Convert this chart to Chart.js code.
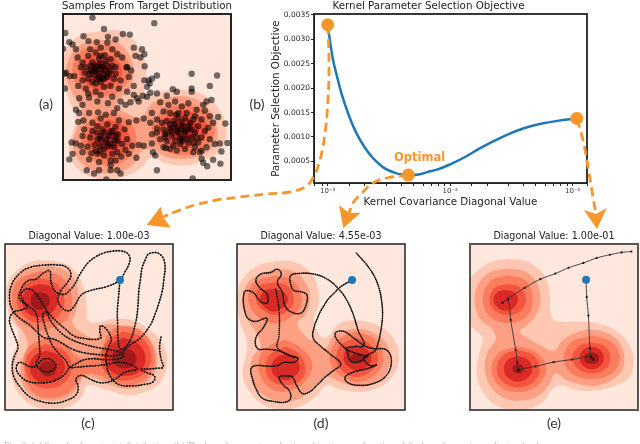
<!DOCTYPE html>
<html>
<head>
<meta charset="utf-8">
<title>Kernel parameter selection</title>
<script src="https://cdn.jsdelivr.net/npm/chart.js@4"></script>
<style>
  html, body { margin: 0; padding: 0; background: #fff; }
  body { position: relative; width: 640px; height: 444px; overflow: hidden; font-family: "DejaVu Sans", sans-serif; }
  canvas { position: absolute; }
  .tag { position: absolute; width: 40px; text-align: center; font: 14px Lato, sans-serif; color: #333; }
  #optimal { position: absolute; left: 394px; top: 150px; font: bold 11.5px "DejaVu Sans", sans-serif; color: #f7962c; }
  #caption { position: absolute; left: 4px; top: 440px; width: 640px; white-space: nowrap; font: 9.6px "Liberation Serif", serif; color: #bbb; }
</style>
</head>
<body>
<canvas id="panelA" width="176" height="184" style="left:59px;top:0"></canvas>
<canvas id="panelB" width="340" height="225" style="left:270px;top:0"></canvas>
<canvas id="panelC" width="176" height="184" style="left:1px;top:230px"></canvas>
<canvas id="panelD" width="176" height="184" style="left:233px;top:230px"></canvas>
<canvas id="panelE" width="176" height="184" style="left:466px;top:230px"></canvas>
<canvas id="arrows" width="640" height="444" style="left:0;top:0"></canvas>
<div class="tag" style="left:26px;top:95px">(a)</div>
<div class="tag" style="left:237px;top:95px">(b)</div>
<div class="tag" style="left:68px;top:414px">(c)</div>
<div class="tag" style="left:301px;top:414px">(d)</div>
<div class="tag" style="left:534px;top:414px">(e)</div>
<div id="optimal">Optimal</div>
<div id="caption">Fig. 2: (a) Samples from target distribution. (b) The kernel parameter selection objective as a function of the kernel covariance diagonal value.</div>

<script>
// objective curve, panel (b)
var diagonalValues = [0.001, 0.0011, 0.0012, 0.0013, 0.0015, 0.0017, 0.002, 0.0023, 0.0027, 0.003, 0.0035, 0.004, 0.00455, 0.0055, 0.0065, 0.008, 0.01, 0.013, 0.017, 0.022, 0.03, 0.04, 0.055, 0.075, 0.108];
var objectiveValues = [0.0033, 0.00261, 0.00221, 0.00188, 0.00142, 0.0011, 0.00079, 0.00059, 0.00042, 0.00034, 0.00027, 0.00023, 0.00022, 0.00023, 0.00028, 0.00034, 0.00044, 0.00058, 0.00075, 0.0009, 0.00106, 0.00118, 0.00127, 0.00133, 0.00138];
var chosenDiagonals = [0.001, 0.00455, 0.108];
var chosenObjectives = [0.0033, 0.00022, 0.00138];
var yTicks = [0.0005, 0.001, 0.0015, 0.002, 0.0025, 0.003, 0.0035];
var xTickValues = [0.001, 0.01, 0.1];
var xTickLabels = ['10⁻³', '10⁻²', '10⁻¹'];

// contour colours, outer level first
var levelColors = ['#fdc7b2', '#fc9f82', '#fb7d5d', '#f4553f', '#d92a26', '#a01a1c'];
var panelBackground = '#fee8de';

// samples, panel (a)
var samplesA = [[275,53],[462,70],[310,88],[193,100],[367,103],[388,105],[205,128],[186,148],[322,112],[248,110],[263,125],[288,128],[345,120],[320,130],[215,135],[225,150],[400,145],[425,150],[432,165],[405,170],[420,175],[433,202],[380,205],[392,215],[195,222],[190,225],[207,232],[432,245],[470,230],[455,240],[445,245],[448,255],[575,225],[652,230],[192,270],[440,265],[630,262],[575,270],[575,280],[518,272],[530,280],[500,292],[470,285],[450,283],[440,295],[427,292],[415,310],[635,305],[620,310],[610,320],[655,357],[677,377],[683,437],[660,438],[645,440],[665,463],[662,500],[640,488],[622,508],[605,485],[610,497],[470,520],[578,545],[317,548],[258,520],[280,530],[295,520],[330,520],[350,520],[360,530],[205,487],[215,470],[265,487],[295,495],[310,475],[408,482],[458,465],[465,475],[497,452],
[268,150],[285,160],[300,145],[335,150],[350,165],[230,175],[245,190],[262,170],[295,178],[312,168],[330,180],[365,175],[378,205],[360,245],[355,270],[385,235],[400,262],[240,205],[252,222],[270,200],[283,205],[300,195],[318,200],[328,215],[345,205],[310,225],[295,225],[278,228],[262,240],[245,245],[220,232],[232,262],[255,270],[275,250],[290,240],[305,240],[320,235],[340,240],[262,285],[285,280],[310,265],[330,262],[380,280],[400,290],[360,310],[335,295],[300,290],[265,298],[235,300],[225,335],[245,320],[290,310],[322,315],[350,330],[375,320],[390,312],[410,300],
[285,215],[300,210],[315,215],[295,235],[280,215],[305,205],[325,225],[270,215],[290,200],[310,240],[300,250],[285,255],[265,225],[335,200],[345,225],[255,205],[275,190],[315,185],[300,170],
[235,345],[232,372],[248,368],[265,345],[292,343],[340,345],[315,350],[300,362],[355,368],[385,373],[408,368],[430,362],[250,395],[245,415],[275,375],[290,385],[320,380],[345,388],[372,395],[288,405],[310,405],[330,405],[352,410],[380,425],[300,425],[318,425],[342,428],[268,420],[282,442],[298,445],[322,445],[340,448],[365,440],[395,445],[415,443],[430,445],[212,435],[225,438],[240,445],[260,448],[245,465],[272,468],[298,462],[350,465],[375,458],[330,490],[345,490],[330,505],[362,478],[385,470],
[325,415],[335,400],[300,415],[315,435],[345,415],[290,425],[305,395],[330,440],[350,430],[275,400],[285,460],[310,455],[335,470],[290,470],
[480,312],[505,320],[525,310],[545,325],[565,315],[590,335],[615,338],[630,355],[640,375],[490,340],[510,345],[535,345],[560,345],[585,355],[605,365],[625,390],[470,365],[455,345],[450,375],[485,375],[500,370],[520,370],[545,375],[570,375],[595,385],[615,400],[490,395],[510,392],[530,390],[548,385],[565,395],[585,405],[605,420],[630,425],[470,405],[455,410],[495,410],[515,415],[535,405],[555,410],[575,420],[595,435],[620,450],[480,425],[500,432],[525,430],[545,432],[565,437],[585,450],[605,460],[455,438],[490,450],[510,455],[530,460],[555,455],[580,465],[600,465],[470,392],[540,420],[528,350],
[545,395],[530,400],[555,400],[515,400],[500,405],[525,380],[565,385],[575,395],[545,425],[560,425],[540,440],[520,445],[495,420],[590,420],[580,435],[510,380],[535,360],[555,360],[580,365]];

var regionsA = [
  [0, [[300,95],[350,92],[395,118],[425,165],[438,215],[430,270],[440,290],[490,278],[560,275],[620,295],[665,345],[680,410],[660,460],[610,490],[560,505],[500,500],[455,480],[425,510],[385,535],[330,548],[270,540],[225,510],[205,470],[210,420],[225,370],[210,320],[195,280],[180,240],[180,170],[205,135],[245,105]]],
  [1, [[290,122],[345,125],[385,165],[400,215],[390,265],[365,295],[345,320],[370,340],[425,360],[450,320],[500,298],[560,295],[615,320],[650,380],[650,430],[615,470],[560,485],[500,480],[455,455],[420,465],[400,500],[350,525],[290,525],[235,490],[215,440],[228,390],[245,340],[230,310],[205,265],[195,215],[215,160],[250,130]]],
  [2, [[295,135],[350,150],[385,205],[370,265],[310,295],[250,280],[215,225],[235,160]]],
  [2, [[325,345],[385,370],[408,425],[385,480],[325,505],[265,480],[240,425],[265,370]]],
  [2, [[550,315],[615,340],[645,395],[615,450],[550,475],[485,450],[455,395],[485,340]]],
  [3, [[295,160],[340,175],[365,215],[345,255],[300,275],[255,255],[235,215],[255,175]]],
  [3, [[325,365],[370,385],[388,425],[370,465],[325,485],[280,465],[260,425],[280,385]]],
  [3, [[550,335],[600,355],[625,395],[600,435],[550,455],[500,435],[478,395],[500,355]]],
  [4, [[300,185],[325,190],[340,215],[325,240],[300,250],[275,240],[262,215],[275,190]]],
  [4, [[325,390],[350,400],[362,425],[350,450],[325,460],[300,450],[288,425],[300,400]]],
  [4, [[550,360],[580,370],[598,395],[580,420],[550,430],[520,420],[505,395],[520,370]]]
];

// panel (c)
var regionsC = [
  [0, [[150,108],[205,125],[235,160],[252,205],[258,255],[262,292],[290,298],[330,288],[390,290],[440,315],[485,360],[500,420],[480,480],[435,510],[380,520],[320,505],[260,490],[245,520],[215,550],[160,562],[100,555],[60,525],[35,480],[30,420],[45,370],[52,330],[30,290],[17,240],[18,185],[45,140],[90,112]]],
  [1, [[145,125],[195,140],[225,180],[232,225],[225,265],[215,300],[250,335],[290,345],[300,310],[350,305],[410,318],[455,360],[470,420],[450,470],[395,500],[330,490],[290,470],[250,465],[235,490],[205,525],[150,538],[95,525],[62,480],[60,420],[80,365],[65,325],[40,290],[25,240],[35,180],[70,140]]],
  [2, [[118,140],[180,158],[212,215],[205,275],[165,310],[110,322],[55,290],[32,230],[50,170]]],
  [2, [[135,345],[190,360],[225,400],[265,410],[300,385],[325,330],[370,310],[430,330],[462,395],[450,455],[400,488],[335,478],[295,460],[250,458],[230,480],[195,518],[130,528],[85,500],[68,440],[82,375]]],
  [3, [[115,162],[165,178],[190,225],[175,275],[125,298],[75,285],[47,235],[68,185]]],
  [3, [[135,365],[190,385],[212,430],[195,478],[140,500],[90,480],[72,430],[90,385]]],
  [3, [[368,325],[425,345],[452,400],[435,450],[385,475],[330,465],[300,415],[320,355]]],
  [4, [[115,180],[150,190],[170,230],[150,270],[115,282],[80,270],[62,230],[80,195]]],
  [4, [[135,385],[175,400],[192,435],[175,470],[135,482],[100,470],[85,432],[100,400]]],
  [4, [[368,345],[412,362],[435,405],[420,445],[375,462],[335,450],[312,410],[330,368]]],
  [5, [[115,205],[140,215],[145,240],[125,258],[100,255],[88,232],[95,212]]],
  [5, [[140,415],[160,425],[165,445],[148,462],[125,458],[115,438],[122,422]]],
  [5, [[368,378],[395,385],[408,410],[395,432],[365,438],[342,425],[335,400],[348,385]]]
];
var pathC = [[482,343],[478,365],[478,385],[482,410],[488,435],[470,438],[450,440],[420,442],[440,452],[462,462],[458,480],[430,488],[395,492],[360,490],[340,478],[325,455],[318,430],[315,400],[325,370],[332,350],[318,320],[300,308],[297,325],[300,345],[280,350],[250,347],[220,340],[195,320],[170,298],[150,278],[130,250],[115,225],[100,205],[90,198],[75,195],[60,212],[68,235],[78,250],[60,260],[40,265],[25,285],[30,315],[42,345],[50,375],[40,400],[33,430],[38,465],[58,497],[85,525],[120,540],[160,545],[195,537],[225,520],[232,495],[225,472],[240,460],[265,470],[295,482],[325,480],[345,470],[375,450],[410,440],[385,425],[355,420],[325,425],[290,430],[258,432],[228,435],[205,435],[195,415],[175,395],[155,370],[142,340],[130,305],[125,275],[135,265],[150,295],[180,330],[210,350],[250,365],[290,375],[330,382],[365,392],[340,400],[300,397],[255,392],[215,380],[180,360],[155,348],[130,345],[105,325],[85,305],[55,285],[35,262],[25,230],[30,185],[55,148],[85,130],[125,123],[165,122],[195,128],[210,150],[200,175],[180,200],[170,228],[185,255],[205,262],[222,245],[240,215],[270,200],[320,188],[358,168],[372,145],[385,120],[388,100],[380,86],[360,79],[335,80],[310,85],[285,97],[262,115],[245,138],[232,160],[222,180],[208,198],[190,212],[165,205],[150,175],[146,140],[125,148],[105,165],[80,170],[60,195],[55,225],[85,250],[105,270],[110,300],[112,330],[115,370],[115,400],[105,425],[115,440],[140,450],[165,432],[145,410],[120,415],[105,432],[85,433],[55,420],[45,440],[60,465],[85,480],[110,483],[140,482],[170,472],[190,458],[203,440],[215,430],[260,410],[320,412],[365,405],[370,385],[392,365],[420,345],[450,305],[465,270],[475,240],[485,205],[490,170],[493,115],[475,87],[445,88],[435,105],[425,130],[420,165],[415,200],[412,250],[405,300],[385,360],[360,380],[352,345],[351,305],[350,265],[354,215],[358,168]];

// panel (d)
var regionsD = [
  [0, [[195,110],[250,112],[300,145],[322,190],[325,245],[310,290],[320,325],[345,345],[390,300],[450,293],[510,310],[550,345],[568,400],[550,460],[500,500],[440,510],[380,500],[350,490],[310,530],[260,558],[200,562],[150,545],[110,500],[95,450],[108,385],[105,345],[85,290],[80,215],[95,165],[140,125]]],
  [1, [[190,135],[245,140],[285,175],[298,225],[285,275],[260,300],[290,345],[310,355],[345,375],[375,335],[440,318],[500,335],[535,375],[540,425],[510,475],[450,495],[390,480],[350,465],[310,495],[270,530],[210,540],[150,515],[120,470],[125,405],[150,370],[130,320],[100,270],[100,200],[130,160]]],
  [2, [[190,155],[240,165],[270,205],[270,250],[235,285],[185,300],[135,275],[112,225],[130,175]]],
  [2, [[225,350],[270,375],[305,420],[290,470],[245,505],[190,505],[150,465],[145,410],[175,370]]],
  [2, [[440,325],[495,350],[520,400],[505,450],[450,480],[390,460],[360,420],[370,365],[400,340]]],
  [3, [[190,175],[230,185],[250,225],[235,260],[195,275],[150,255],[135,220],[150,185]]],
  [3, [[225,372],[265,395],[285,435],[270,475],[225,490],[180,475],[165,435],[180,395]]],
  [3, [[440,345],[480,365],[505,405],[485,445],[440,465],[395,445],[378,405],[395,365]]],
  [4, [[190,195],[220,205],[232,230],[215,255],[185,265],[155,245],[148,220],[165,200]]],
  [4, [[225,395],[255,410],[268,440],[250,465],[220,475],[190,460],[182,430],[198,405]]],
  [4, [[440,368],[470,380],[485,408],[470,435],[440,445],[410,430],[400,405],[412,380]]],
  [5, [[440,390],[460,398],[465,412],[450,422],[428,420],[420,405]]]
];
var pathD = [[426,168],[390,190],[372,208],[355,225],[342,245],[330,265],[320,288],[312,310],[308,345],[330,370],[360,395],[392,425],[370,445],[345,465],[320,490],[295,512],[275,515],[258,490],[245,465],[225,462],[205,465],[218,490],[235,505],[240,530],[225,542],[190,540],[155,530],[135,500],[125,470],[120,440],[135,430],[170,432],[200,430],[220,420],[250,420],[262,408],[235,398],[205,385],[170,380],[140,378],[135,345],[160,310],[168,285],[130,295],[105,275],[100,205],[125,205],[150,235],[170,238],[168,210],[150,195],[135,170],[150,150],[180,145],[200,135],[212,150],[200,175],[215,205],[222,245],[240,265],[270,270],[285,250],[290,215],[275,205],[250,200],[240,180],[240,155],[265,148],[310,150],[350,165],[385,195],[410,230],[430,275],[445,325],[462,368],[430,372],[408,378],[430,390],[465,400],[475,400],[440,420],[420,415],[410,385],[380,350],[375,330],[400,325],[430,345],[465,370],[490,378],[530,382],[545,415],[530,460],[490,485],[440,490],[410,480],[405,465],[430,450],[470,440],[500,428],[480,430],[462,405],[495,385],[505,360],[510,340],[518,280],[515,230],[508,195],[495,160],[480,135],[465,115],[437,84]];
var pathD2 = [[195,195],[205,260],[205,340],[200,375],[235,398],[262,408]];

// panel (e)
var regionsE = [
  [0, [[262,103],[310,108],[350,130],[378,165],[388,210],[390,260],[400,290],[430,296],[480,295],[530,300],[590,325],[630,370],[642,420],[625,470],[580,495],[520,508],[465,505],[420,490],[395,505],[370,540],[330,562],[280,568],[230,555],[195,525],[172,480],[168,430],[178,380],[185,345],[160,320],[140,290],[140,180],[170,140],[210,112]]],
  [1, [[265,132],[310,140],[345,170],[360,220],[352,265],[322,305],[298,325],[320,345],[360,368],[400,385],[430,350],[480,325],[530,322],[585,345],[610,385],[612,430],[590,465],[540,490],[490,490],[440,475],[405,455],[385,490],[350,525],[300,538],[250,530],[210,495],[192,440],[200,390],[225,350],[215,320],[180,290],[162,240],[170,185],[205,145]]],
  [2, [[262,152],[315,170],[337,225],[318,280],[262,300],[208,280],[186,228],[208,172]]],
  [2, [[292,370],[350,392],[378,440],[350,492],[292,512],[235,492],[212,440],[235,392]]],
  [2, [[515,338],[575,358],[600,408],[575,455],[515,472],[455,455],[430,408],[455,358]]],
  [3, [[262,180],[300,192],[316,228],[300,262],[262,276],[222,262],[206,228],[222,192]]],
  [3, [[292,382],[340,400],[358,440],[340,480],[292,497],[246,480],[228,440],[246,400]]],
  [3, [[515,360],[555,372],[572,408],[555,442],[515,455],[475,442],[456,408],[475,372]]],
  [4, [[255,198],[280,205],[292,228],[280,252],[255,262],[230,252],[218,228],[230,205]]],
  [4, [[292,400],[322,412],[335,440],[322,468],[292,480],[262,468],[250,440],[262,412]]],
  [4, [[515,372],[540,382],[552,408],[540,432],[515,442],[490,432],[478,408],[490,382]]],
  [5, [[515,390],[530,395],[537,408],[530,420],[515,425],[498,420],[492,408],[498,395]]],
  [5, [[292,425],[305,430],[310,440],[305,450],[292,455],[280,450],[275,440],[280,430]]]
];
var pathE = [[498,167],[500,220],[505,277],[510,378],[516,408],[520,412],[512,403],[455,412],[400,420],[345,433],[295,443],[292,447],[290,420],[285,382],[270,290],[262,228],[245,238],[262,225],[312,192],[360,165],[405,148],[445,130],[490,115],[530,100],[570,90],[605,83],[635,80]];

// blue starts
var startC = [[358,168]];
var startD = [[426,168]];
var startE = [[498,167]];

// dashed connectors and arrow heads, in page pixels
var arrowLeft = [[328,25],[329,67],[328,100],[325,133],[320,160],[313,178],[305,187],[290,192],[267,194],[240,197],[217,200],[195,205],[175,212],[163,217]];
var arrowMiddle = [[408,175],[387,178],[373,183],[362,193],[353,203],[349,213]];
var arrowRight = [[577,119],[583,140],[588,167],[593,197],[596,214]];
var headLeft = [[146.7,225],[160.7,206.7],[163,216.7],[170.7,227.7]];
var headMiddle = [[343.3,228.3],[339,205],[349,213],[360.7,212.7]];
var headRight = [[597,229],[584,210],[596,214],[606.7,208]];

var orange = '#f7962c';
var blue = '#1f77b4';

// panel background under the contours, axes box over everything
var framePlugin = {
  id: 'frame',
  beforeDatasetsDraw: function(chart, args, opts) {
    if (!opts.background) return;
    var area = chart.chartArea;
    chart.ctx.save();
    chart.ctx.fillStyle = opts.background;
    chart.ctx.fillRect(area.left, area.top, area.right - area.left, area.bottom - area.top);
    chart.ctx.restore();
  },
  afterDatasetsDraw: function(chart, args, opts) {
    var area = chart.chartArea;
    var ctx = chart.ctx;
    ctx.save();
    ctx.strokeStyle = opts.color || '#222';
    ctx.lineWidth = opts.width || 1.5;
    ctx.strokeRect(area.left, area.top, area.right - area.left, area.bottom - area.top);
    ctx.restore();
  }
};

function closed(points) {
  return points.concat([points[0]]);
}

function regionDatasets(regions) {
  return regions.map(function(region) {
    return {
      data: closed(region[1]),
      showLine: true,
      fill: 'shape',
      backgroundColor: levelColors[region[0]],
      borderWidth: 0,
      pointRadius: 0,
      tension: 0.4,
      capBezierPoints: false
    };
  });
}

function pathLine(points, width) {
  return {
    data: points,
    showLine: true,
    fill: false,
    borderColor: '#333',
    borderWidth: width,
    tension: 0.4,
    pointRadius: 0
  };
}

// the samples along a trajectory: round dots from a dashed stroke of the same line
function pathDots(points, size, gap) {
  return {
    data: points,
    showLine: true,
    fill: false,
    borderColor: '#111',
    borderWidth: size,
    borderCapStyle: 'round',
    borderDash: [0.01, gap],
    tension: 0.4,
    pointRadius: 0
  };
}

function pathVertices(points) {
  var ds = pathLine(points, 0.9);
  ds.pointRadius = 1.1;
  ds.pointBorderWidth = 0;
  ds.pointBackgroundColor = '#111';
  return ds;
}

function startDataset(points) {
  return { data: points, pointRadius: 4, pointBorderWidth: 0, pointBackgroundColor: blue };
}

function makePanel(id, title, titleSize, frameStyle, xMin, xMax, yMin, yMax, datasets) {
  // first dataset in the list gets painted first
  datasets.forEach(function(ds, i) { ds.order = datasets.length - i; });
  new Chart(document.getElementById(id), {
    type: 'scatter',
    data: { datasets: datasets },
    plugins: [framePlugin],
    options: {
      responsive: false,
      animation: false,
      layout: { padding: { left: 3, right: 3, top: 0, bottom: 0 } },
      plugins: {
        legend: { display: false },
        tooltip: { enabled: false },
        frame: frameStyle,
        title: {
          display: true,
          text: title,
          color: '#222',
          font: { family: 'DejaVu Sans', size: titleSize, weight: 'normal', lineHeight: 12 / titleSize },
          padding: { top: 0, bottom: 2 }
        }
      },
      scales: {
        x: { display: false, min: xMin, max: xMax },
        y: { display: false, min: yMin, max: yMax, reverse: true }
      }
    }
  });
}

makePanel('panelA', 'Samples From Target Distribution', 10.3, { background: panelBackground, width: 2 }, 186, 694, 42, 550,
  regionDatasets(regionsA).concat([{
    data: samplesA,
    clip: 0,
    pointRadius: 3.2,
    pointBorderWidth: 0,
    pointBackgroundColor: 'rgba(0,0,0,0.55)'
  }]));

makePanel('panelC', 'Diagonal Value: 1.00e-03', 9.6, { background: panelBackground }, 11, 518, 58, 566,
  regionDatasets(regionsC).concat([pathLine(pathC, 0.8), pathDots(pathC, 1.9, 2.9), startDataset(startC)]));

makePanel('panelD', 'Diagonal Value: 4.55e-03', 9.6, { background: panelBackground }, 78, 586, 58, 566,
  regionDatasets(regionsD).concat([pathLine(pathD, 0.8), pathDots(pathD, 1.7, 2), pathDots(pathD2, 1.7, 2), startDataset(startD)]));

makePanel('panelE', 'Diagonal Value: 1.00e-01', 9.6, { background: panelBackground, color: '#555', width: 2 }, 147, 655, 57, 567,
  regionDatasets(regionsE).concat([pathVertices(pathE), startDataset(startE)]));

// objective plot
new Chart(document.getElementById('panelB'), {
  type: 'scatter',
  data: {
    datasets: [
      {
        data: chosenDiagonals.map(function(d, i) { return { x: d, y: chosenObjectives[i] }; }),
        pointRadius: 6.5,
        pointBorderWidth: 0,
        pointBackgroundColor: orange,
        clip: false,
        order: 1
      },
      {
        data: diagonalValues.map(function(d, i) { return { x: d, y: objectiveValues[i] }; }),
        showLine: true,
        borderColor: blue,
        borderWidth: 2.5,
        tension: 0.4,
        pointRadius: 0,
        order: 2
      }
    ]
  },
  plugins: [framePlugin],
  options: {
    responsive: false,
    animation: false,
    layout: { padding: { left: 0, right: 23, top: 0, bottom: 16 } },
    plugins: {
      legend: { display: false },
      tooltip: { enabled: false },
      frame: { width: 1.8 },
      title: {
        display: true,
        text: 'Kernel Parameter Selection Objective',
        color: '#222',
        font: { family: 'DejaVu Sans', size: 10.3, weight: 'normal', lineHeight: 12 / 10.3 },
        padding: { top: 0, bottom: 2 }
      }
    },
    scales: {
      x: {
        type: 'logarithmic',
        min: 0.000773,
        max: 0.1309,
        grid: { drawOnChartArea: false, tickLength: 3, color: '#222' },
        border: { color: '#222' },
        afterFit: function(scale) { scale.height = 26; },
        ticks: {
          autoSkip: false,
          maxRotation: 0,
          padding: 1,
          color: '#333',
          font: { family: 'DejaVu Sans', size: 7 },
          callback: function(value) {
            var i = xTickValues.indexOf(value);
            return i >= 0 ? xTickLabels[i] : '';
          }
        },
        title: {
          display: true,
          text: 'Kernel Covariance Diagonal Value',
          color: '#222',
          padding: 0,
          font: { family: 'DejaVu Sans', size: 10.3, lineHeight: 1.2 }
        }
      },
      y: {
        min: 0.000057,
        max: 0.00352,
        grid: { drawOnChartArea: false, tickLength: 3, color: '#222' },
        border: { color: '#222' },
        afterFit: function(scale) { scale.width = 44; },
        afterBuildTicks: function(scale) {
          scale.ticks = yTicks.map(function(v) { return { value: v }; });
        },
        ticks: {
          padding: 1,
          color: '#222',
          font: { family: 'DejaVu Sans', size: 7.5 },
          callback: function(value) { return value.toFixed(4); }
        },
        title: {
          display: true,
          text: 'Parameter Selection Objective',
          color: '#222',
          padding: 0,
          font: { family: 'DejaVu Sans', size: 10.3, lineHeight: 1.2 }
        }
      }
    }
  }
});

// connectors between the plots
function connector(points) {
  return {
    data: points,
    showLine: true,
    fill: false,
    borderColor: orange,
    borderWidth: 2.8,
    borderDash: [9, 5],
    tension: 0.4,
    pointRadius: 0
  };
}
function arrowHead(points) {
  return {
    data: closed(points),
    showLine: true,
    fill: 'shape',
    backgroundColor: orange,
    borderWidth: 0,
    pointRadius: 0
  };
}
new Chart(document.getElementById('arrows'), {
  type: 'scatter',
  data: {
    datasets: [
      connector(arrowLeft), connector(arrowMiddle), connector(arrowRight),
      arrowHead(headLeft), arrowHead(headMiddle), arrowHead(headRight)
    ]
  },
  options: {
    responsive: false,
    animation: false,
    layout: { padding: 0 },
    plugins: { legend: { display: false }, tooltip: { enabled: false } },
    scales: {
      x: { display: false, min: 0, max: 640 },
      y: { display: false, min: 0, max: 444, reverse: true }
    }
  }
});
</script>
</body>
</html>
